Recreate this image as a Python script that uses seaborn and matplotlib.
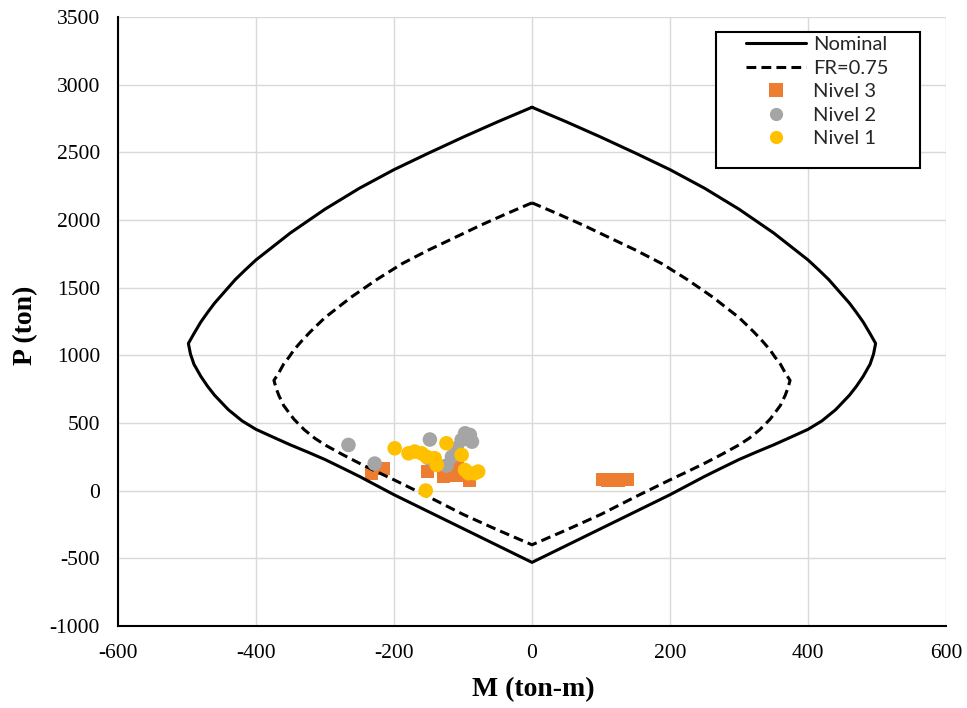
import matplotlib
matplotlib.use("Agg")
import matplotlib.pyplot as plt
from matplotlib.lines import Line2D
from matplotlib.patches import Rectangle
import seaborn as sns
import pandas as pd

# ---- Interaction diagram, nominal (closed loop: top -> left -> bottom -> right -> top)
nominal_M = [0, -50, -100, -150, -200, -250, -300, -350, -400, -415, -430, -445, -460, -470, -480, -490, -498,
             -495, -490, -480, -470, -460, -440, -420, -400, -375, -350, -325, -300, -275, -250, -200, -150, -100, -50, 0,
             50, 100, 150, 200, 250, 275, 300, 325, 350, 375, 400, 420, 440, 460, 470, 480, 490, 495,
             498, 490, 480, 470, 460, 445, 430, 415, 400, 350, 300, 250, 200, 150, 100, 50, 0]
nominal_P = [2833, 2725, 2612, 2494, 2372, 2235, 2080, 1905, 1705, 1634, 1560, 1473, 1386, 1318, 1246, 1160, 1088,
             1010, 935, 845, 770, 705, 598, 515, 453, 395, 338, 285, 230, 168, 105, -30, -155, -280, -405, -530,
             -405, -280, -155, -30, 105, 168, 230, 285, 338, 395, 453, 515, 598, 705, 770, 845, 935, 1010,
             1088, 1160, 1246, 1318, 1386, 1473, 1560, 1634, 1705, 1905, 2080, 2235, 2372, 2494, 2612, 2725, 2833]

# ---- Interaction diagram, FR = 0.75
fr_M = [0, -38, -75, -112, -150, -188, -225, -262, -300, -311, -322, -334, -345, -352, -360, -367, -374,
        -371, -367, -360, -352, -345, -330, -315, -300, -275, -250, -225, -200, -150, -100, -50, 0,
        50, 100, 150, 200, 225, 250, 275, 300, 315, 330, 345, 352, 360, 367, 371,
        374, 367, 360, 352, 345, 334, 322, 311, 300, 262, 225, 188, 150, 112, 75, 38, 0]
fr_P = [2127, 2044, 1960, 1870, 1778, 1678, 1560, 1430, 1279, 1225, 1170, 1105, 1040, 988, 935, 870, 815,
        760, 705, 630, 575, 528, 450, 388, 338, 268, 202, 140, 80, -45, -175, -290, -400,
        -290, -175, -45, 80, 140, 202, 268, 338, 388, 450, 528, 575, 630, 705, 760,
        815, 870, 935, 988, 1040, 1105, 1170, 1225, 1279, 1430, 1560, 1678, 1778, 1870, 1960, 2044, 2127]

# ---- Demand points
nivel3_M = [-232, -215, -152, -128, -115, -108, -100, -90, 102, 110, 118, 126, 132, 139]
nivel3_P = [128, 165, 140, 105, 115, 180, 110, 75, 80, 78, 80, 78, 80, 80]

nivel2_M = [-266, -228, -148, -150, -124, -116, -109, -102, -97, -90, -87]
nivel2_P = [338, 200, 378, 240, 185, 251, 313, 375, 424, 412, 362]

nivel1_M = [-199, -179, -170, -160, -153, -141, -138, -124, -102, -97, -92, -83, -78, -154]
nivel1_P = [313, 276, 289, 276, 251, 240, 190, 350, 264, 153, 129, 129, 141, 1]

series_labels = ["Nominal", "FR=0.75", "Nivel 3", "Nivel 2", "Nivel 1"]
x_ticks = [-600, -400, -200, 0, 200, 400, 600]
y_ticks = [-1000, -500, 0, 500, 1000, 1500, 2000, 2500, 3000, 3500]

C_N3 = "#ED7D31"
C_N2 = "#A5A5A5"
C_N1 = "#FFC000"

sns.set_theme(style="white")
plt.rcParams["font.family"] = ["Liberation Serif", "DejaVu Serif"]
plt.rcParams["axes.unicode_minus"] = False

W, H = 967, 708
fig, ax = plt.subplots(figsize=(W / 100, H / 100), dpi=100)
L, R, T, B = 118, 946, 17, 626
fig.subplots_adjust(left=L / W, right=R / W, top=1 - T / H, bottom=1 - B / H)

df_nom = pd.DataFrame({"M": nominal_M, "P": nominal_P})
df_fr = pd.DataFrame({"M": fr_M, "P": fr_P})

sns.scatterplot(x=nivel3_M, y=nivel3_P, marker="s", s=88, color=C_N3,
                edgecolor="none", linewidth=0, ax=ax, zorder=2)
sns.lineplot(data=df_nom, x="M", y="P", sort=False, estimator=None,
             color="black", linewidth=2.2, ax=ax, zorder=3)
ax.lines[-1].set_solid_joinstyle("round")
sns.lineplot(data=df_fr, x="M", y="P", sort=False, estimator=None,
             color="black", linewidth=2.2, ax=ax, zorder=3)
ax.lines[-1].set_dashes([3.2, 1.7])
sns.scatterplot(x=nivel2_M, y=nivel2_P, marker="o", s=110, color=C_N2,
                edgecolor="none", linewidth=0, ax=ax, zorder=4)
sns.scatterplot(x=nivel1_M, y=nivel1_P, marker="o", s=110, color=C_N1,
                edgecolor="none", linewidth=0, ax=ax, zorder=5)

ax.set_xlim(-600, 600)
ax.set_ylim(-1000, 3500)
ax.set_xticks(x_ticks)
ax.set_yticks(y_ticks)
ax.grid(True, color="#d9d9d9", linewidth=1.0)
ax.set_axisbelow(True)
for side in ["top", "right"]:
    ax.spines[side].set_visible(False)
for side in ["left", "bottom"]:
    ax.spines[side].set_color("black")
    ax.spines[side].set_linewidth(1.5)
ax.tick_params(axis="both", length=0, labelsize=15.5, colors="black")
ax.tick_params(axis="y", pad=13)
ax.tick_params(axis="x", pad=13)

ax.set_xlabel("M (ton-m)", fontsize=20, fontweight="bold", color="black")
ax.set_ylabel("P (ton)", fontsize=20, fontweight="bold", color="black")
ax.xaxis.label.set_va("center")
ax.yaxis.label.set_va("center")
ax.xaxis.set_label_coords((533 - L) / (R - L), (B - 690) / (B - T))
ax.yaxis.set_label_coords((26 - L) / (R - L), (B - 325) / (B - T))

# legend box
bx0, bx1, by0, by1 = 716, 920, 32, 168
rect = Rectangle(((bx0 - L) / (R - L), (B - by1) / (B - T)),
                 (bx1 - bx0) / (R - L), (by1 - by0) / (B - T),
                 transform=ax.transAxes, facecolor="white", edgecolor="black",
                 linewidth=1.5, zorder=6, clip_on=False)
ax.add_patch(rect)

handles = [
    Line2D([], [], color="black", linewidth=2.2),
    Line2D([], [], color="black", linewidth=2.2, dashes=[3.2, 1.7]),
    Line2D([], [], color=C_N3, marker="s", linestyle="none", markersize=9.5, markeredgewidth=0),
    Line2D([], [], color=C_N2, marker="o", linestyle="none", markersize=9.5, markeredgewidth=0),
    Line2D([], [], color=C_N1, marker="o", linestyle="none", markersize=9.5, markeredgewidth=0),
]
leg = ax.legend(handles, series_labels, loc="upper left",
                bbox_to_anchor=((746 - L) / (R - L), (B - 36) / (B - T)),
                frameon=False, borderpad=0, borderaxespad=0,
                handlelength=3.0, handletextpad=0.35, labelspacing=0.32,
                prop={"family": ["Lato", "DejaVu Sans"], "size": 14.5})
leg.set_zorder(7)

fig.savefig("out.png", dpi=100)
